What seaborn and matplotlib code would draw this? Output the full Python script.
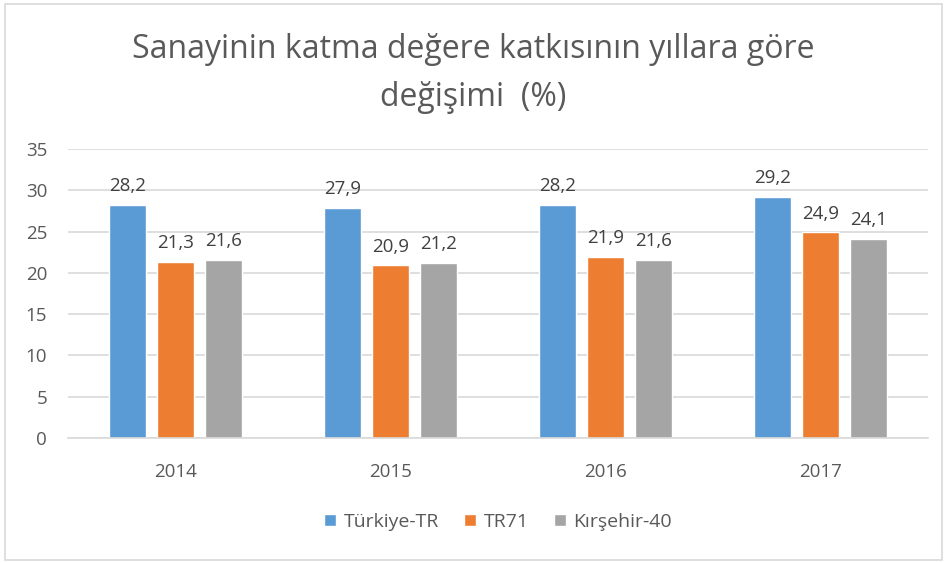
import matplotlib
matplotlib.use("Agg")
import matplotlib.pyplot as plt
import seaborn as sns
import pandas as pd
from matplotlib.patches import Rectangle

years = ["2014", "2015", "2016", "2017"]
series_names = ["Türkiye-TR", "TR71", "Kırşehir-40"]
turkiye = [28.2, 27.9, 28.2, 29.2]
tr71 = [21.3, 20.9, 21.9, 24.9]
kirsehir = [21.6, 21.2, 21.6, 24.1]
yticks = [0, 5, 10, 15, 20, 25, 30, 35]
title = "Sanayinin katma değere katkısının yıllara göre\ndeğişimi  (%)"

colors = ["#5B9BD5", "#ED7D31", "#A5A5A5"]

rows = []
for name, vals in zip(series_names, [turkiye, tr71, kirsehir]):
    for y, v in zip(years, vals):
        rows.append({"Yıl": y, "Seri": name, "Değer": v})
df = pd.DataFrame(rows)

sns.set_theme(style="white")
plt.rcParams["font.family"] = ["Open Sans", "DejaVu Sans"]

fig = plt.figure(figsize=(9.47, 5.63), dpi=100)
ax = fig.add_axes([68 / 947, 1 - 438 / 563, 860 / 947, (438 - 149) / 563])

sns.barplot(data=df, x="Yıl", y="Değer", hue="Seri", palette=colors,
            width=0.67, gap=0.23, ax=ax, saturation=1, legend=True)

for cont in ax.containers:
    ax.bar_label(cont, labels=[f"{v:.1f}".replace(".", ",") for v in cont.datavalues],
                 padding=7, fontsize=13.5, color="#404040")

ax.set_ylim(0, 35)
ax.set_xlim(-0.5, 3.5)
ax.set_yticks(yticks)
ax.set_xlabel("")
ax.set_ylabel("")
ax.yaxis.grid(True, color="#D9D9D9", linewidth=1.2)
ax.set_axisbelow(True)
for s in ["left", "right", "top"]:
    ax.spines[s].set_visible(False)
ax.spines["bottom"].set_color("#D9D9D9")
ax.spines["bottom"].set_linewidth(1.2)
ax.tick_params(axis="y", length=0, pad=15, labelsize=13.5, labelcolor="#595959")
ax.tick_params(axis="x", length=0, pad=18, labelsize=13.5, labelcolor="#595959")

leg = ax.legend(loc="center", bbox_to_anchor=(0.5, -0.29), ncol=3, frameon=False,
                fontsize=14, handlelength=0.6, handleheight=0.6, handletextpad=0.4,
                columnspacing=1.3)
for t in leg.get_texts():
    t.set_color("#595959")

fig.text(0.5, 1 - 73 / 563, title, ha="center", va="center", fontsize=23,
         color="#595959", linespacing=1.6)

fig.patches.append(Rectangle((5 / 947, 3 / 563), 937 / 947, 556 / 563, transform=fig.transFigure,
                             fill=False, edgecolor="#D9D9D9", linewidth=1.2))

fig.savefig("out.png", dpi=100)
